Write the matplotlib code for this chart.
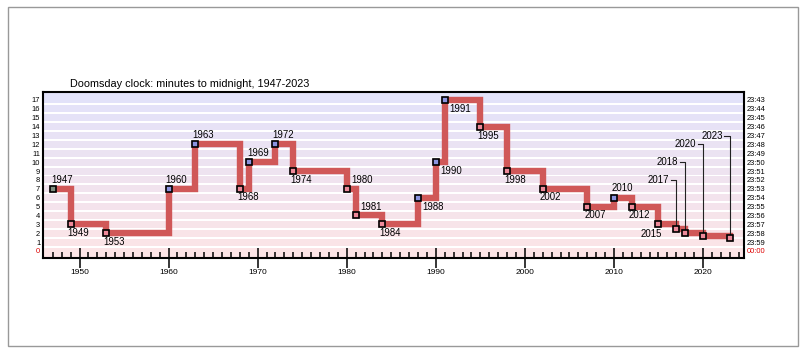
import matplotlib
matplotlib.use("Agg")
import matplotlib.pyplot as plt
import numpy as np
from matplotlib.patches import Rectangle

plt.rcParams['font.family'] = ['Liberation Sans', 'DejaVu Sans']

# Data: minutes to midnight
years = [1947, 1949, 1953, 1960, 1963, 1968, 1969, 1972, 1974, 1980, 1981, 1984,
         1988, 1990, 1991, 1995, 1998, 2002, 2007, 2010, 2012, 2015, 2017, 2018,
         2020, 2023]
minutes = [7, 3, 2, 7, 12, 7, 10, 12, 9, 7, 4, 3,
           6, 10, 17, 14, 9, 7, 5, 6, 5, 3, 2.5, 2,
           100 / 60, 90 / 60]
# direction of change: 'start', 'back' (away from midnight), 'fwd' (towards midnight)
moves = ['start', 'fwd', 'fwd', 'back', 'back', 'fwd', 'back', 'back', 'fwd', 'fwd', 'fwd', 'fwd',
         'back', 'back', 'back', 'fwd', 'fwd', 'fwd', 'fwd', 'back', 'fwd', 'fwd', 'fwd', 'fwd',
         'fwd', 'fwd']
left_labels = [str(i) for i in range(18)]
right_labels = ['00:00'] + ['23:%02d' % (60 - i) for i in range(1, 18)]

# label offsets in pixels (dx, dy) relative to marker
offsets = {1947: (9, 9), 1949: (8, -9), 1953: (8, -9), 1960: (8, 9), 1963: (8, 9),
           1968: (8, -8), 1969: (9, 9), 1972: (8, 9), 1974: (8, -9), 1980: (15, 9),
           1981: (15, 8), 1984: (8, -9), 1988: (15, -9), 1990: (15, -9), 1991: (15, -9),
           1995: (8, -9), 1998: (8, -9), 2002: (8, -8), 2007: (8, -8), 2010: (8, 10),
           2012: (8, -8), 2015: (-7, -10)}
# leader-line labels: year -> y level of label
leaders = {2017: 8, 2018: 10, 2020: 12, 2023: 13}

fig = plt.figure(figsize=(8.08, 3.54), dpi=100)
ax = fig.add_axes([43 / 808, 1 - 258 / 354, 701 / 808, 166 / 354])
ax.set_xlim(1945.9, 2024.6)
ax.set_ylim(-0.79, 17.9)

# background bands
top_c = np.array([226, 226, 249]) / 255
bot_c = np.array([252, 228, 230]) / 255
for k in range(18):
    c = bot_c + (top_c - bot_c) * k / 17
    lo = k - 0.39 if k > 0 else -0.79
    hi = k + 0.39 if k < 17 else 17.9
    ax.axhspan(lo, hi, color=c, lw=0, zorder=0)

ax.step(years, minutes, where='post', color='#d05858', lw=4.6, zorder=2,
        solid_joinstyle='miter')

fills = {'start': '#7f8f80', 'back': '#8c94e0', 'fwd': '#ee8a9a'}
for yr, m, mv in zip(years, minutes, moves):
    ax.plot(yr, m, 's', ms=5, mfc=fills[mv], mec='black', mew=1.2, zorder=4)
    if yr in offsets:
        dx, dy = offsets[yr]
        ax.annotate(str(yr), (yr, m), xytext=(dx, dy), textcoords='offset pixels',
                    ha='center', va='center', fontsize=6.9, zorder=5)

for yr, ly in leaders.items():
    m = minutes[years.index(yr)]
    ax.plot([yr - 0.6, yr, yr], [ly, ly, m], color='#222222', lw=0.8, zorder=3)
    ax.text(yr - 0.8, ly, str(yr), ha='right', va='center', fontsize=6.9, zorder=5)

# axes styling
for s in ax.spines.values():
    s.set_linewidth(1.5)
ax.set_yticks(range(18))
ax.set_yticklabels(left_labels, fontsize=5.4)
ax.tick_params(axis='y', length=0, pad=2)
ax.get_yticklabels()[0].set_color('#dd0000')

ax.set_xticks(range(1950, 2021, 10))
ax.set_xticks(range(1947, 2025), minor=True)
ax.tick_params(axis='x', which='major', direction='inout', length=14, width=1.1,
               labelsize=6, pad=1)
ax.tick_params(axis='x', which='minor', direction='in', length=4.3, width=1.1)

ax2 = ax.twinx()
ax2.set_ylim(ax.get_ylim())
ax2.set_yticks(range(18))
ax2.set_yticklabels(right_labels, fontsize=5.4)
ax2.tick_params(axis='y', length=0, pad=2)
ax2.get_yticklabels()[0].set_color('#dd0000')
for s in ax2.spines.values():
    s.set_visible(False)

fig.text(70 / 808, 1 - 84 / 354, 'Doomsday clock: minutes to midnight, 1947-2023',
         fontsize=7.8, ha='left', va='center')

fig.patches.append(Rectangle((8 / 808, 8 / 354), 790 / 808, 339 / 354,
                             transform=fig.transFigure, fill=False,
                             edgecolor='#999999', lw=1))

fig.savefig('out.png', dpi=100)
